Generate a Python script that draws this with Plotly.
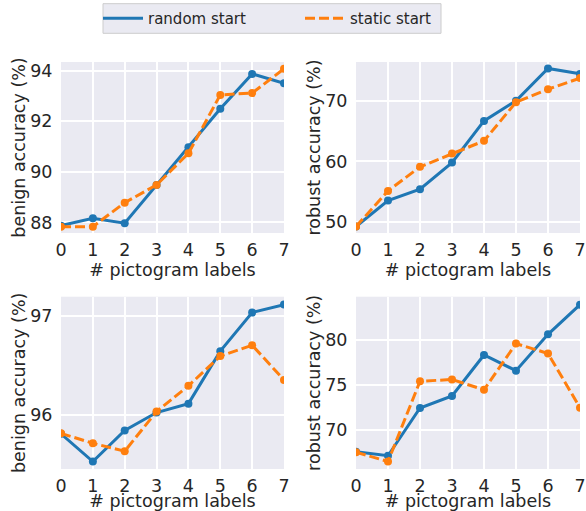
import plotly.graph_objects as go

x_labels = [0, 1, 2, 3, 4, 5, 6, 7]

# top-left: benign accuracy
tl_random = [87.87, 88.16, 87.97, 89.48, 90.97, 92.49, 93.87, 93.50]
tl_static = [87.83, 87.83, 88.78, 89.48, 90.73, 93.04, 93.11, 94.07]
# top-right: robust accuracy
tr_random = [49.2, 53.5, 55.4, 59.8, 66.7, 70.05, 75.4, 74.5]
tr_static = [49.2, 55.1, 59.1, 61.3, 63.4, 69.8, 71.95, 73.8]
# bottom-left: benign accuracy
bl_random = [95.805, 95.525, 95.84, 96.02, 96.11, 96.64, 97.03, 97.11]
bl_static = [95.81, 95.71, 95.63, 96.03, 96.29, 96.59, 96.70, 96.35]
# bottom-right: robust accuracy
br_random = [67.55, 67.1, 72.42, 73.76, 78.33, 76.58, 80.64, 83.94]
br_static = [67.5, 66.45, 75.4, 75.6, 74.45, 79.6, 78.5, 72.45]

series_names = ["random start", "static start"]
colors = ["#1f77b4", "#ff7f0e"]
dashes = ["solid", "10px,4px"]

panels = [
    dict(r=tl_random, s=tl_static, ax="", ylab="benign accuracy (%)",
         yrange=[87.58, 94.34], ticks=[88, 90, 92, 94]),
    dict(r=tr_random, s=tr_static, ax="2", ylab="robust accuracy (%)",
         yrange=[48.13, 76.47], ticks=[50, 60, 70]),
    dict(r=bl_random, s=bl_static, ax="3", ylab="benign accuracy (%)",
         yrange=[95.45, 97.19], ticks=[96, 97]),
    dict(r=br_random, s=br_static, ax="4", ylab="robust accuracy (%)",
         yrange=[65.62, 84.83], ticks=[70, 75, 80]),
]

W, H = 586, 511
xdoms = [[61 / W, 284 / W], [356 / W, 580 / W]]
ydoms = [[1 - 233 / H, 1 - 62 / H], [1 - 469 / H, 1 - 296.7 / H]]

TXT = "#262626"
FONT = "DejaVu Sans"

fig = go.Figure()
for p in panels:
    for vals, name, col, dash in zip([p["r"], p["s"]], series_names, colors, dashes):
        fig.add_trace(go.Scatter(
            x=x_labels, y=vals, mode="lines+markers", name=name,
            line=dict(color=col, width=3, dash=dash),
            marker=dict(color=col, size=8),
            xaxis="x" + p["ax"], yaxis="y" + p["ax"], showlegend=False,
            cliponaxis=True,
        ))

# legend-only entries (lines without markers), one legend each
for k, (name, col, dash) in enumerate(zip(series_names, colors, dashes)):
    fig.add_trace(go.Scatter(x=[None], y=[None], mode="lines", name=name,
                             line=dict(color=col, width=3, dash=dash),
                             xaxis="x", yaxis="y", showlegend=True,
                             legend="legend" if k == 0 else "legend2"))

leg_common = dict(orientation="h", yanchor="middle", xanchor="left",
                  bgcolor="rgba(0,0,0,0)", borderwidth=0,
                  font=dict(size=15, family=FONT, color=TXT), itemwidth=40)

layout = dict(
    width=W, height=H,
    margin=dict(l=0, r=0, t=0, b=0),
    paper_bgcolor="white", plot_bgcolor="#EAEAF2",
    font=dict(family=FONT, color=TXT, size=17.5),
    showlegend=True,
    legend=dict(x=98 / W, y=1 - 18.5 / H, **leg_common),
    legend2=dict(x=300 / W, y=1 - 18.5 / H, **leg_common),
    shapes=[dict(type="rect", xref="paper", yref="paper",
                 x0=103 / W, x1=441 / W, y0=1 - 33.3 / H, y1=1 - 3.7 / H,
                 fillcolor="#EAEAF2", line=dict(color="#CCCCCC", width=1),
                 layer="below")],
)
for i, p in enumerate(panels):
    row, colidx = divmod(i, 2)
    ax = p["ax"]
    layout["xaxis" + ax] = dict(
        domain=xdoms[colidx], anchor="y" + ax, range=[0, 7],
        tickvals=x_labels, showgrid=True, gridcolor="white", gridwidth=1.5,
        zeroline=False, showline=False, ticks="outside", ticklen=1,
        tickcolor="rgba(0,0,0,0)", automargin=False,
        title=dict(text="# pictogram labels", standoff=0, font=dict(size=17.5)),
        tickfont=dict(size=17.5),
    )
    layout["yaxis" + ax] = dict(
        domain=ydoms[row], anchor="x" + ax, range=p["yrange"],
        tickvals=p["ticks"], showgrid=True, gridcolor="white", gridwidth=1.5,
        zeroline=False, showline=False, ticks="outside", ticklen=4,
        tickcolor="rgba(0,0,0,0)", automargin=False,
        title=dict(text=p["ylab"], standoff=0, font=dict(size=17.5)),
        tickfont=dict(size=17.5),
    )
fig.update_layout(**layout)
fig.write_html("out.html", config={"displayModeBar": False},
               post_script="document.body.style.margin='0';")
